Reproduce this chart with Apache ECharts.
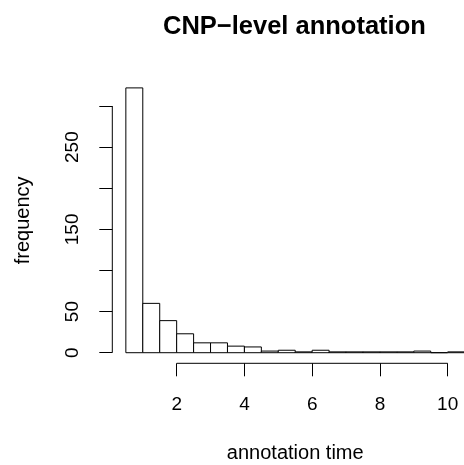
<!DOCTYPE html>
<html><head><meta charset="utf-8">
<script src="https://cdn.jsdelivr.net/npm/echarts@6/dist/echarts.min.js"></script>
<style>html,body{margin:0;padding:0;background:#fff}#c{width:464px;height:465px}</style>
</head><body><div id="c"></div>
<script>
// histogram bin edges and counts
const breaks = [0.5, 1.0, 1.5, 2.0, 2.5, 3.0, 3.5, 4.0, 4.5, 5.0, 5.5, 6.0, 6.5, 7.0, 7.5, 8.0, 8.5, 9.0, 9.5, 10.0, 10.5];
const counts = [322, 60, 39, 23, 12, 12, 8, 7, 2, 3, 1, 3, 1, 1, 1, 1, 1, 2, 0, 1];
const xTicks = [2, 4, 6, 8, 10];
const yTicks = [0, 50, 100, 150, 200, 250, 300];
const yLabels = [0, 50, 150, 250];
const titleText = 'CNP\u2212level annotation';
const xName = 'annotation time';
const yName = 'frequency';

const FONT = "'Liberation Sans', Arial, Helvetica, sans-serif";
const xRange = breaks[breaks.length - 1] - breaks[0];
const xMin = breaks[0] - 0.04 * xRange;
const xMax = breaks[breaks.length - 1] + 0.04 * xRange;
const yMaxC = Math.max(...counts);
const yMin = -0.04 * yMaxC;
const yMax = 1.04 * yMaxC;

const barData = counts.map((c, i) => [breaks[i], breaks[i + 1], c]);

const chart = echarts.init(document.getElementById('c'), null, {renderer: 'canvas'});
chart.setOption({
  backgroundColor: '#fff',
  animation: false,
  title: {
    text: titleText, left: 163, top: 14, padding: 0,
    textStyle: {fontFamily: FONT, fontSize: 25.5, fontWeight: 'bold', color: '#000'}
  },
  grid: {left: 112.3, top: 77.3, width: 365.85, height: 286, containLabel: false, outerBoundsMode: 'none'},
  xAxis: {
    type: 'value', min: xMin, max: xMax,
    name: xName, nameLocation: 'middle', nameGap: 80.5,
    nameTextStyle: {fontFamily: FONT, fontSize: 20, color: '#000'},
    axisLine: {show: false, onZero: false},
    splitLine: {show: false},
    axisTick: {show: true, customValues: xTicks, length: 13, lineStyle: {color: '#000', width: 1}},
    axisLabel: {customValues: xTicks, margin: 31.5, fontFamily: FONT, fontSize: 19, color: '#000'}
  },
  yAxis: {
    type: 'value', min: yMin, max: yMax,
    name: yName, nameLocation: 'middle', nameGap: 79, nameRotate: 90,
    nameTextStyle: {fontFamily: FONT, fontSize: 20, color: '#000'},
    axisLine: {show: false, onZero: false},
    splitLine: {show: false},
    axisTick: {show: true, customValues: yTicks, length: 13, lineStyle: {color: '#000', width: 1}},
    axisLabel: {customValues: yLabels, rotate: 90, margin: 30, fontFamily: FONT, fontSize: 19, color: '#000'}
  },
  series: [
    {
      type: 'custom', name: 'bars', data: barData, encode: {x: [0, 1], y: 2}, silent: true,
      renderItem: function (params, api) {
        const p0 = api.coord([api.value(0), api.value(2)]);
        const p1 = api.coord([api.value(1), 0]);
        return {
          type: 'rect',
          shape: {x: p0[0], y: p0[1], width: p1[0] - p0[0], height: p1[1] - p0[1]},
          style: {fill: '#fff', stroke: '#000', lineWidth: 1}
        };
      }
    },
    {
      type: 'custom', name: 'axes', silent: true,
      data: [[xTicks[0], xTicks[xTicks.length - 1], 0], [yTicks[0], yTicks[yTicks.length - 1], 1]],
      encode: {x: 0},
      renderItem: function (params, api) {
        const a = api.value(0), b = api.value(1), kind = api.value(2);
        let s, e;
        if (kind === 0) { s = api.coord([a, yMin]); e = api.coord([b, yMin]); }
        else { s = api.coord([xMin, a]); e = api.coord([xMin, b]); }
        return {type: 'line', shape: {x1: s[0], y1: s[1], x2: e[0], y2: e[1]}, style: {stroke: '#000', lineWidth: 1}};
      }
    }
  ]
});
</script>
</body></html>
